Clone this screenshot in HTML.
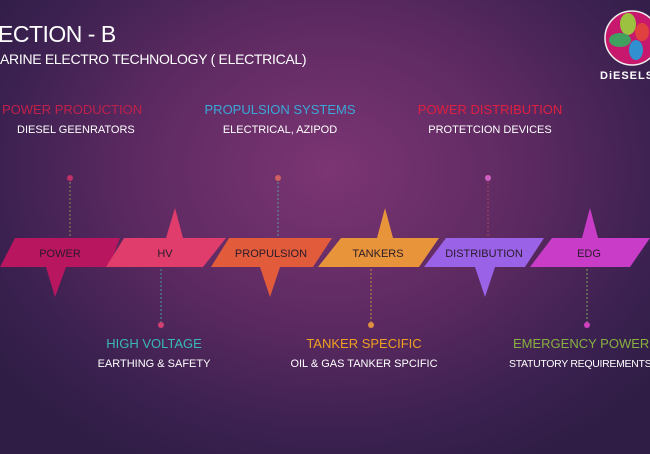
<!DOCTYPE html>
<html><head><style>
body{margin:0;width:650px;height:454px;overflow:hidden;font-family:"Liberation Sans",sans-serif;
background:radial-gradient(ellipse 420px 330px at 330px 170px,#7b3572 0%,#5e2a62 45%,#3b2150 80%,#2f1d45 100%);position:relative}
.t{position:absolute;white-space:nowrap;color:#fff}
.c{transform:translateX(-50%)}
.h{font-size:13px}
.s{font-size:11px}
</style></head><body>
<div class="t" style="left:-2px;top:21px;font-size:23px;letter-spacing:-0.5px">ECTION - B</div>
<div class="t" style="left:0;top:51px;font-size:14px;letter-spacing:-0.3px">ARINE ELECTRO TECHNOLOGY ( ELECTRICAL)</div>
<svg width="650" height="454" style="position:absolute;left:0;top:0">
<g stroke-dasharray="2,2" stroke-width="1">
<line x1="70" y1="178" x2="70" y2="240" stroke="#8a8a50"/>
<line x1="278" y1="178" x2="278" y2="240" stroke="#5a9a9a"/>
<line x1="488" y1="178" x2="488" y2="240" stroke="#b04060"/>
<line x1="161" y1="265" x2="161" y2="325" stroke="#4a9a9a"/>
<line x1="371" y1="265" x2="371" y2="325" stroke="#c09040"/>
<line x1="587" y1="265" x2="587" y2="325" stroke="#80a060"/>
</g>
<circle cx="70" cy="178" r="3" fill="#c0306a"/>
<circle cx="278" cy="178" r="3" fill="#d06060"/>
<circle cx="488" cy="178" r="3" fill="#d060c0"/>
<circle cx="161" cy="325" r="3" fill="#d04070"/>
<circle cx="371" cy="325" r="3" fill="#e09040"/>
<circle cx="587" cy="325" r="3" fill="#d040c0"/>
<polygon points="15,238 120,238 109,267 66,267 55,297 46,267 0,267" fill="#b8165f"/>
<polygon points="124,238 166,238 175,208 183,238 226,238 203,267 106,267" fill="#e03c6c"/>
<polygon points="229,238 332,238 313,267 280,267 270,297 260,267 211,267" fill="#e25c3c"/>
<polygon points="341,238 377,238 385,208 393,238 439,238 419,267 318,267" fill="#e8943a"/>
<polygon points="446,238 544,238 525,267 495,267 485,297 475,267 424,267" fill="#9a62e6"/>
<polygon points="552,238 582,238 590,208 598,238 650,238 630,267 530,267" fill="#c83cc8"/>
<g font-size="11" fill="#2a1a2a" text-anchor="middle" font-family="Liberation Sans,sans-serif">
<text x="60" y="257">POWER</text><text x="165" y="257">HV</text><text x="271" y="257">PROPULSION</text>
<text x="378" y="257">TANKERS</text><text x="484" y="257">DISTRIBUTION</text><text x="589" y="257">EDG</text>
</g>
<circle cx="632" cy="38" r="27" fill="#c8186e" stroke="#eee" stroke-width="1.5"/>
<ellipse cx="628" cy="24" rx="8" ry="11" fill="#9cc040"/>
<ellipse cx="620" cy="40" rx="11" ry="7" fill="#40a060"/>
<ellipse cx="636" cy="50" rx="7" ry="10" fill="#3090d0"/>
<ellipse cx="642" cy="32" rx="7" ry="9" fill="#e04040"/>
</svg>
<div class="t" style="left:600px;top:70px;font-size:11px;font-weight:bold;letter-spacing:1px">DiESELSH</div>
<div class="t h" style="left:2px;top:102px;color:#c0204a">POWER PRODUCTION</div>
<div class="t s" style="left:17px;top:124px">DIESEL GEENRATORS</div>
<div class="t h c" style="left:280px;top:102px;color:#3aa8d8">PROPULSION SYSTEMS</div>
<div class="t s c" style="left:280px;top:124px">ELECTRICAL, AZIPOD</div>
<div class="t h c" style="left:490px;top:102px;color:#e02040">POWER DISTRIBUTION</div>
<div class="t s c" style="left:490px;top:124px">PROTETCION DEVICES</div>
<div class="t h c" style="left:154px;top:336px;color:#3ab8b8">HIGH VOLTAGE</div>
<div class="t s c" style="left:154px;top:358px">EARTHING &amp; SAFETY</div>
<div class="t h c" style="left:364px;top:336px;color:#f0a020">TANKER SPECIFIC</div>
<div class="t s c" style="left:364px;top:358px">OIL &amp; GAS TANKER SPCIFIC</div>
<div class="t h" style="left:513px;top:336px;color:#88b040">EMERGENCY POWER</div>
<div class="t s" style="left:509px;top:358px;font-size:10.5px;letter-spacing:-0.3px">STATUTORY REQUIREMENTS</div>
</body></html>
